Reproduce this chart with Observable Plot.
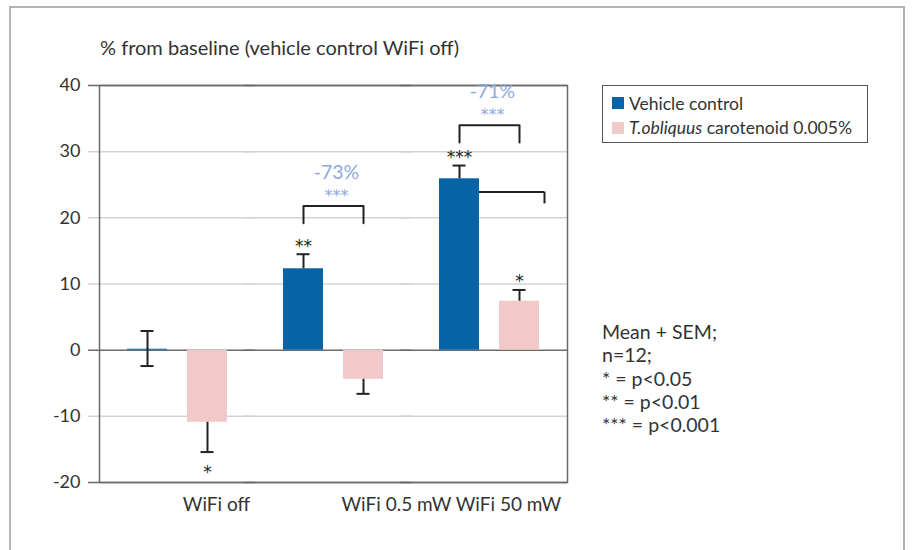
<!DOCTYPE html>
<html>
<head>
<meta charset="utf-8">
<script src="https://cdn.jsdelivr.net/npm/d3@7"></script>
<script src="https://cdn.jsdelivr.net/npm/@observablehq/plot@0.6"></script>
<style>
  html, body { margin: 0; padding: 0; background: #fff; overflow: hidden; }
  #wrap { position: relative; width: 912px; height: 550px; font-family: Lato, "Open Sans", sans-serif; color: #333; }
  #border { position: absolute; left: 9px; top: 6px; width: 896px; height: 600px; border: 2px solid #b4b4b4; box-sizing: border-box; }
  #title { position: absolute; left: 100px; top: 35px; font-size: 20px; color: #333; white-space: nowrap; }
  #chart { position: absolute; left: 0; top: 0; }
  #legend { position: absolute; left: 602px; top: 85px; width: 266px; height: 58px; box-sizing: border-box; border: 1.5px solid #555; background: #fff; padding: 5px 0 0 9px; font-size: 17.5px; }
  #legend .item { display: flex; align-items: center; height: 24.5px; white-space: nowrap; }
  #legend .sw { display: inline-block; width: 12px; height: 12px; margin-right: 5px; }
  #notes { position: absolute; left: 602px; top: 320px; font-size: 19.5px; line-height: 23.3px; color: #333; white-space: pre; }
</style>
</head>
<body>
<div id="wrap">
  <div id="border"></div>
  <div id="chart"></div>
  <div id="title"></div>
  <div id="legend"></div>
  <div id="notes"></div>
</div>
<script>
// ---- data ----
const titleText = "% from baseline (vehicle control WiFi off)";
const groups = ["WiFi off", "WiFi 0.5 mW", "WiFi 50 mW"];
const seriesKeys = ["Vehicle control", "T.obliquus carotenoid 0.005%"];
const seriesColors = ["#0563a6", "#f2c9c9"];

const vehicleMean    = [0.15, 12.3, 25.9];
const vehicleErrLow  = [-2.4, 12.3, 25.9];
const vehicleErrHigh = [2.9, 14.5, 27.9];
const vehicleSig     = ["", "**", "***"];

const toblMean    = [-10.9, -4.4, 7.4];
const toblErrLow  = [-15.4, -6.6, 7.4];
const toblErrHigh = [-10.9, -4.4, 9.1];
const toblSig     = ["*", "", "*"];

const bracketGroups = ["WiFi 0.5 mW", "WiFi 50 mW"];
const bracketTop    = [21.8, 34.0];
const bracketLeg    = [19.2, 31.4];
const bracketPct    = ["-73%", "-71%"];
const bracketSig    = ["***", "***"];

const strayGroup = "WiFi 50 mW";
const strayTop = 23.9;
const strayLeg = 22.1;

const yTicks = [-20, -10, 0, 10, 20, 30, 40];
const gridTicks = [-10, 10, 20, 30];
const borderTicks = [-20, 0, 40];

const notesLines = ["Mean + SEM;", "n=12;", "* = p<0.05", "** = p<0.01", "*** = p<0.001"];

// ---- build tables ----
const rows = groups.flatMap((g, i) => [
  {group: g, series: seriesKeys[0], value: vehicleMean[i], lo: vehicleErrLow[i], hi: vehicleErrHigh[i], sig: vehicleSig[i]},
  {group: g, series: seriesKeys[1], value: toblMean[i], lo: toblErrLow[i], hi: toblErrHigh[i], sig: toblSig[i]}
]);
const caps = rows.flatMap(r => {
  const out = [];
  if (r.hi > r.value) out.push({group: r.group, series: r.series, y: r.hi});
  if (r.lo < r.value) out.push({group: r.group, series: r.series, y: r.lo});
  return out;
});
const sigUp = rows.filter(r => r.sig && r.value >= 0);
const sigDown = rows.filter(r => r.sig && r.value < 0);

const brackets = bracketGroups.map((g, i) => ({group: g, series: seriesKeys[0], top: bracketTop[i], leg: bracketLeg[i], pct: bracketPct[i], sig: bracketSig[i]}));
const bracketPts = brackets.flatMap(b => [
  {group: b.group, series: seriesKeys[0], y: b.leg},
  {group: b.group, series: seriesKeys[0], y: b.top},
  {group: b.group, series: seriesKeys[1], y: b.top},
  {group: b.group, series: seriesKeys[1], y: b.leg}
]);
const stray = [{group: strayGroup, a: seriesKeys[0], b: seriesKeys[1], top: strayTop, leg: strayLeg}];

const ink = "#222";
const starFont = "'DejaVu Sans', sans-serif";
const fxLabelOffsets = [39, 63, 19];

const chart = Plot.plot({
  width: 912,
  height: 550,
  marginLeft: 98,
  marginRight: 345,
  marginTop: 85,
  marginBottom: 68,
  style: {fontFamily: "Lato, 'Open Sans', sans-serif", fontSize: "17px", color: "#333", background: "transparent", overflow: "visible"},
  fx: {domain: groups, padding: 0, label: null, axis: null},
  x: {domain: seriesKeys, paddingInner: 0.336, paddingOuter: 0.449, axis: null},
  y: {domain: [-20, 40], axis: null},
  color: {domain: seriesKeys, range: seriesColors},
  marks: [
    Plot.ruleY(gridTicks, {stroke: "#d4d4d4", strokeWidth: 1.5, insetLeft: -11}),
    Plot.ruleY(borderTicks, {stroke: "#6a6a6a", strokeWidth: 1.5, insetLeft: -11}),
    Plot.frame({facet: "super", stroke: "#6a6a6a", strokeWidth: 1.5}),
    // stray bracket (behind the bar)
    Plot.ruleY(stray, {fx: "group", x1: "a", x2: "b", y: "top", stroke: ink, strokeWidth: 2, insetRight: -5}),
    Plot.ruleX(stray, {fx: "group", x: "b", y1: "leg", y2: "top", stroke: ink, strokeWidth: 2, dx: 25}),
    // bars
    Plot.barY(rows, {fx: "group", x: "series", y: "value", fill: "series"}),
    // error bars
    Plot.ruleX(rows, {fx: "group", x: "series", y1: "lo", y2: "hi", stroke: ink, strokeWidth: 2}),
    Plot.tickY(caps, {fx: "group", x: "series", y: "y", stroke: ink, strokeWidth: 2, insetLeft: 13.5, insetRight: 13.5}),
    // significance stars
    Plot.text(sigUp, {fx: "group", x: "series", y: "hi", text: "sig", fill: ink, fontFamily: starFont, fontSize: 17, lineAnchor: "bottom", dy: -2.5}),
    Plot.text(sigDown, {fx: "group", x: "series", y: "lo", text: "sig", fill: ink, fontFamily: starFont, fontSize: 17, lineAnchor: "top", dy: 13.5}),
    // comparison brackets
    Plot.line(bracketPts, {fx: "group", x: "series", y: "y", z: "group", stroke: ink, strokeWidth: 2}),
    Plot.text(brackets, {fx: "group", x: "series", y: "top", text: "pct", fill: "#8eaadb", fontSize: 19.5, dx: 33, dy: -33}),
    Plot.text(brackets, {fx: "group", x: "series", y: "top", text: "sig", fill: "#8eaadb", fontFamily: starFont, fontSize: 16, dx: 33, dy: -10}),
    // axes
    Plot.axisY({ticks: yTicks, tickSize: 0, tickPadding: 19, tickFormat: d => String(d), fill: "#333", fontSize: 18}),
    ...groups.map((g, i) => Plot.axisFx({ticks: [g], anchor: "bottom", tickSize: 0, tickPadding: 15, dx: fxLabelOffsets[i], fill: "#333", fontSize: 19, label: null}))
  ]
});
document.getElementById("chart").appendChild(chart);

document.getElementById("title").textContent = titleText;

const legend = document.getElementById("legend");
seriesKeys.forEach((k, i) => {
  const item = document.createElement("div");
  item.className = "item";
  const sw = document.createElement("span");
  sw.className = "sw";
  sw.style.background = seriesColors[i];
  item.appendChild(sw);
  const label = document.createElement("span");
  if (k.startsWith("T.obliquus")) {
    const em = document.createElement("i");
    em.textContent = "T.obliquus";
    label.appendChild(em);
    label.appendChild(document.createTextNode(k.slice("T.obliquus".length)));
  } else {
    label.textContent = k;
  }
  item.appendChild(label);
  legend.appendChild(item);
});

document.getElementById("notes").textContent = notesLines.join("\n");
</script>
</body>
</html>
